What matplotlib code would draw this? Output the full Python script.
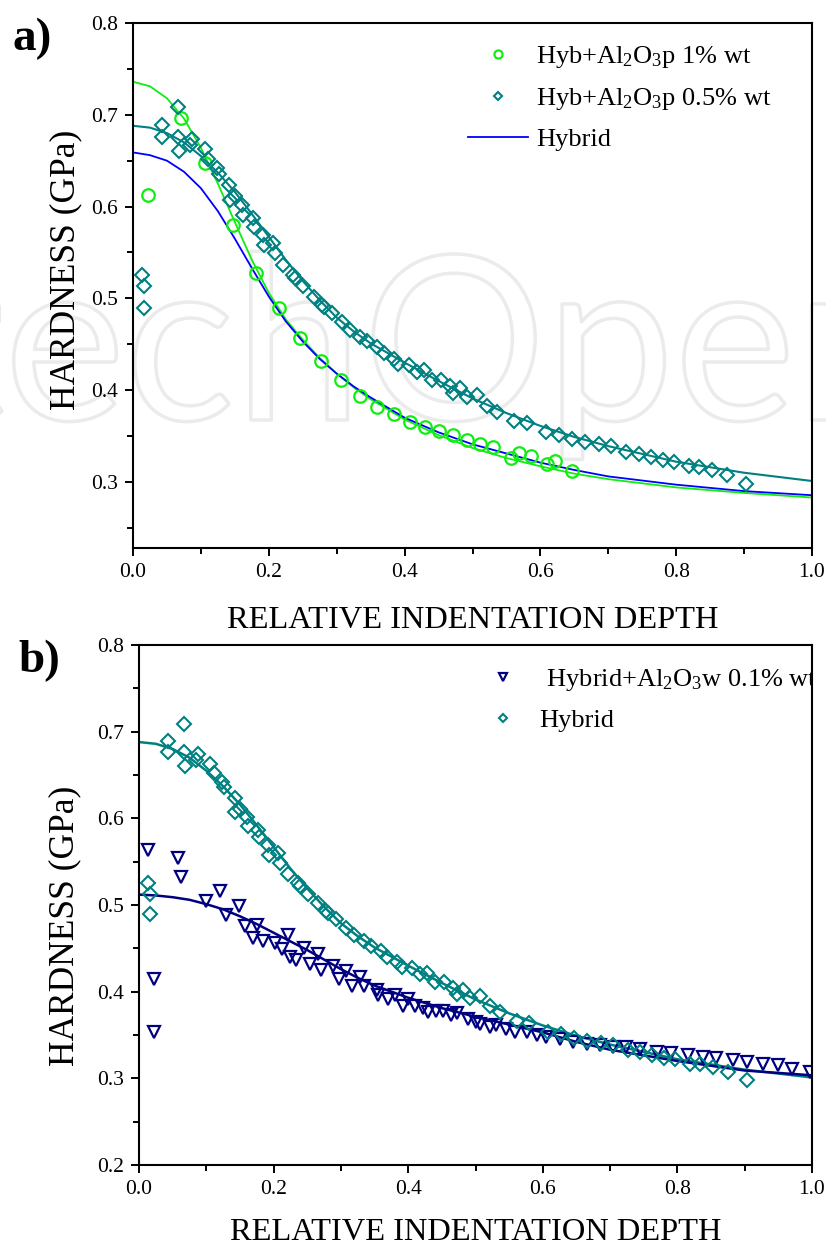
import numpy as np
import matplotlib
matplotlib.use("Agg")
import matplotlib.pyplot as plt
import matplotlib.patheffects as pe
from matplotlib.ticker import MultipleLocator, FormatStrFormatter

plt.rcParams['font.family'] = ['Liberation Serif', 'DejaVu Serif']
plt.rcParams['mathtext.fontset'] = 'custom'
plt.rcParams['mathtext.rm'] = 'Liberation Serif'
plt.rcParams['mathtext.it'] = 'Liberation Serif:italic'

# --- measured points: Hyb + Al2O3p 1% wt (circles) ---
p1_x = [0.022, 0.071, 0.106, 0.147, 0.181, 0.215, 0.246, 0.277, 0.306, 0.335,
        0.360, 0.384, 0.408, 0.430, 0.450, 0.471, 0.492, 0.511, 0.530, 0.556,
        0.568, 0.586, 0.610, 0.621, 0.647]
p1_y = [0.613, 0.697, 0.647, 0.580, 0.528, 0.490, 0.457, 0.432, 0.411, 0.394,
        0.382, 0.374, 0.365, 0.360, 0.355, 0.351, 0.346, 0.341, 0.338, 0.326,
        0.331, 0.328, 0.319, 0.323, 0.312]

# --- measured points: Hyb + Al2O3p 0.5% wt / Hybrid (diamonds) ---
p05_x = [0.013, 0.016, 0.016, 0.043, 0.043, 0.067, 0.067, 0.068, 0.084, 0.087,
         0.106, 0.111, 0.124, 0.126, 0.142, 0.143, 0.150, 0.160, 0.162, 0.177,
         0.178, 0.192, 0.193, 0.206, 0.209, 0.221, 0.236, 0.239, 0.251, 0.266,
         0.278, 0.281, 0.293, 0.308, 0.320, 0.335, 0.345, 0.360, 0.369, 0.384,
         0.391, 0.406, 0.418, 0.428, 0.440, 0.453, 0.467, 0.472, 0.482, 0.492,
         0.507, 0.522, 0.536, 0.561, 0.580, 0.608, 0.627, 0.647, 0.666, 0.686,
         0.704, 0.726, 0.745, 0.763, 0.780, 0.797, 0.819, 0.834, 0.853, 0.875,
         0.903]
p05_y = [0.525, 0.513, 0.490, 0.689, 0.676, 0.709, 0.676, 0.660, 0.667, 0.674,
         0.663, 0.652, 0.642, 0.636, 0.624, 0.607, 0.611, 0.602, 0.591, 0.587,
         0.578, 0.569, 0.558, 0.560, 0.549, 0.536, 0.525, 0.522, 0.513, 0.502,
         0.493, 0.491, 0.484, 0.474, 0.465, 0.458, 0.453, 0.447, 0.440, 0.434,
         0.429, 0.427, 0.420, 0.422, 0.411, 0.411, 0.404, 0.397, 0.402, 0.393,
         0.395, 0.383, 0.376, 0.366, 0.364, 0.354, 0.351, 0.347, 0.343, 0.341,
         0.339, 0.333, 0.330, 0.327, 0.324, 0.322, 0.317, 0.316, 0.313, 0.307,
         0.298]

# --- measured points: Hybrid + Al2O3w 0.1% wt (triangles) ---
w01_x = [0.013, 0.022, 0.022, 0.058, 0.062, 0.100, 0.121, 0.130, 0.149, 0.157,
         0.169, 0.175, 0.184, 0.202, 0.212, 0.222, 0.224, 0.234, 0.245, 0.254,
         0.266, 0.271, 0.288, 0.297, 0.307, 0.316, 0.328, 0.335, 0.353, 0.355,
         0.370, 0.380, 0.392, 0.400, 0.410, 0.422, 0.429, 0.442, 0.452, 0.464,
         0.472, 0.489, 0.501, 0.506, 0.521, 0.531, 0.546, 0.558, 0.576, 0.591,
         0.605, 0.625, 0.645, 0.665, 0.685, 0.704, 0.724, 0.744, 0.769, 0.791,
         0.816, 0.838, 0.858, 0.882, 0.904, 0.927, 0.950, 0.970, 0.997]
w01_y = [0.564, 0.415, 0.353, 0.554, 0.532, 0.505, 0.516, 0.488, 0.499, 0.476,
         0.462, 0.477, 0.459, 0.456, 0.449, 0.465, 0.440, 0.437, 0.450, 0.432,
         0.443, 0.425, 0.430, 0.415, 0.424, 0.407, 0.417, 0.406, 0.402, 0.396,
         0.392, 0.396, 0.384, 0.392, 0.383, 0.381, 0.377, 0.378, 0.378, 0.373,
         0.375, 0.369, 0.365, 0.363, 0.359, 0.362, 0.357, 0.354, 0.354, 0.350,
         0.348, 0.345, 0.342, 0.340, 0.338, 0.336, 0.336, 0.334, 0.330, 0.329,
         0.327, 0.325, 0.324, 0.321, 0.319, 0.317, 0.315, 0.311, 0.307]

# --- fitted curves ---
fit_x = [0.0, 0.025, 0.05, 0.075, 0.1, 0.125, 0.15, 0.175, 0.2, 0.225, 0.25,
         0.275, 0.3, 0.325, 0.35, 0.4, 0.45, 0.5, 0.55, 0.6, 0.65, 0.7, 0.8,
         0.9, 1.0]
fit_p1 = [0.736, 0.731, 0.718, 0.696, 0.664, 0.625, 0.583, 0.542, 0.506, 0.477,
          0.455, 0.435, 0.418, 0.403, 0.390, 0.368, 0.351, 0.337, 0.326, 0.317,
          0.309, 0.303, 0.294, 0.288, 0.283]
fit_hybrid_a = [0.659, 0.656, 0.650, 0.638, 0.620, 0.595, 0.565, 0.533, 0.502,
                0.475, 0.453, 0.434, 0.418, 0.404, 0.392, 0.370, 0.354, 0.341,
                0.331, 0.321, 0.313, 0.306, 0.297, 0.290, 0.2855]
fit_p05 = [0.688, 0.686, 0.680, 0.670, 0.655, 0.637, 0.616, 0.592, 0.567, 0.542,
           0.519, 0.498, 0.479, 0.464, 0.451, 0.430, 0.410, 0.391, 0.375, 0.361,
           0.349, 0.339, 0.322, 0.310, 0.301]
fit_w01 = [0.512, 0.511, 0.509, 0.506, 0.501, 0.495, 0.487, 0.478, 0.468, 0.458,
           0.448, 0.437, 0.426, 0.416, 0.407, 0.393, 0.381, 0.371, 0.362, 0.353,
           0.342, 0.333, 0.320, 0.309, 0.3035]

GREEN = '#10ee10'
TEAL = '#008080'
BLUE = '#0000ff'
NAVY = '#000080'

fig = plt.figure(figsize=(8.26, 12.49), dpi=100)

# faint publisher watermark behind the plots
wm = fig.text(-270 / 826, 1 - 420 / 1249, 'IntechOpen', fontsize=165, family='Lato',
              color='none', zorder=-1)
wm.set_path_effects([pe.Stroke(linewidth=2.5, foreground='#ebebeb')])

ax_a = fig.add_axes([133 / 826, 1 - 548 / 1249, 679 / 826, 525 / 1249])
ax_b = fig.add_axes([139 / 826, 1 - 1165 / 1249, 673 / 826, 520 / 1249])


def style_axes(ax, ylo):
    ax.set_facecolor('none')
    ax.set_xlim(0, 1)
    ax.set_ylim(ylo, 0.8)
    ax.xaxis.set_major_locator(MultipleLocator(0.2))
    ax.xaxis.set_minor_locator(MultipleLocator(0.1))
    ax.yaxis.set_major_locator(MultipleLocator(0.1))
    ax.yaxis.set_minor_locator(MultipleLocator(0.05))
    ax.xaxis.set_major_formatter(FormatStrFormatter('%.1f'))
    ax.yaxis.set_major_formatter(FormatStrFormatter('%.1f'))
    ax.tick_params(which='both', direction='out', top=False, right=False,
                   width=1.4, labelsize=15.5, pad=5)
    ax.tick_params(which='major', length=6)
    ax.tick_params(which='minor', length=4)
    for s in ax.spines.values():
        s.set_linewidth(1.5)
    ax.set_xlabel('RELATIVE INDENTATION DEPTH', fontsize=23.4)
    ax.set_ylabel('HARDNESS (GPa)', fontsize=25.5)


# --- panel a ---
style_axes(ax_a, 0.228)
ax_a.plot(fit_x, fit_p1, color=GREEN, lw=1.3)
ax_a.plot(fit_x, fit_p05, color=TEAL, lw=1.5)
h_line, = ax_a.plot(fit_x, fit_hybrid_a, color=BLUE, lw=1.3, label='Hybrid')
h_c, = ax_a.plot(p1_x, p1_y, 'o', ms=9, mfc='none', mec=GREEN, mew=1.6,
                 label='Hyb+Al$_\\mathrm{2}$O$_\\mathrm{3}$p 1% wt')
h_d, = ax_a.plot(p05_x, p05_y, 'D', ms=7, mfc='none', mec=TEAL, mew=1.5,
                 label='Hyb+Al$_\\mathrm{2}$O$_\\mathrm{3}$p 0.5% wt')
ax_a.legend(handles=[h_c, h_d, h_line], loc='upper left', bbox_to_anchor=(0.493, 0.96),
            frameon=False, fontsize=19, handlelength=2.3, handletextpad=0.3,
            borderpad=0, borderaxespad=0, labelspacing=0.6, markerscale=0.65)
ax_a.yaxis.set_label_coords(-0.075, 0.53)
ax_a.xaxis.set_label_coords(0.5, -0.11)

# --- panel b ---
style_axes(ax_b, 0.2)
ax_b.plot(fit_x, fit_p05, color=TEAL, lw=1.8)
ax_b.plot(fit_x, fit_w01, color=NAVY, lw=1.8)
h_t, = ax_b.plot(w01_x, w01_y, 'v', ms=9, mfc='none', mec=NAVY, mew=1.6,
                 label=' Hybrid+Al$_\\mathrm{2}$O$_\\mathrm{3}$w 0.1% wt')
h_d2, = ax_b.plot(p05_x, p05_y, 'D', ms=7, mfc='none', mec=TEAL, mew=1.5,
                  label='Hybrid')
leg_b = ax_b.legend(handles=[h_t, h_d2], loc='upper left', bbox_to_anchor=(0.505, 0.957),
                    frameon=False, fontsize=19, handlelength=1.85, handletextpad=0.45,
                    borderpad=0, borderaxespad=0, labelspacing=0.58, markerscale=0.65)
for t in leg_b.get_texts():
    t.set_clip_box(ax_b.bbox)
    t.set_clip_on(True)
ax_b.yaxis.set_label_coords(-0.085, 0.46)
ax_b.xaxis.set_label_coords(0.5, -0.102)

fig.text(12 / 826, 1 - 50 / 1249, 'a)', fontsize=34, fontweight='bold', va='baseline')
fig.text(18 / 826, 1 - 672 / 1249, 'b)', fontsize=34, fontweight='bold', va='baseline')

fig.savefig('out.png', dpi=100)
